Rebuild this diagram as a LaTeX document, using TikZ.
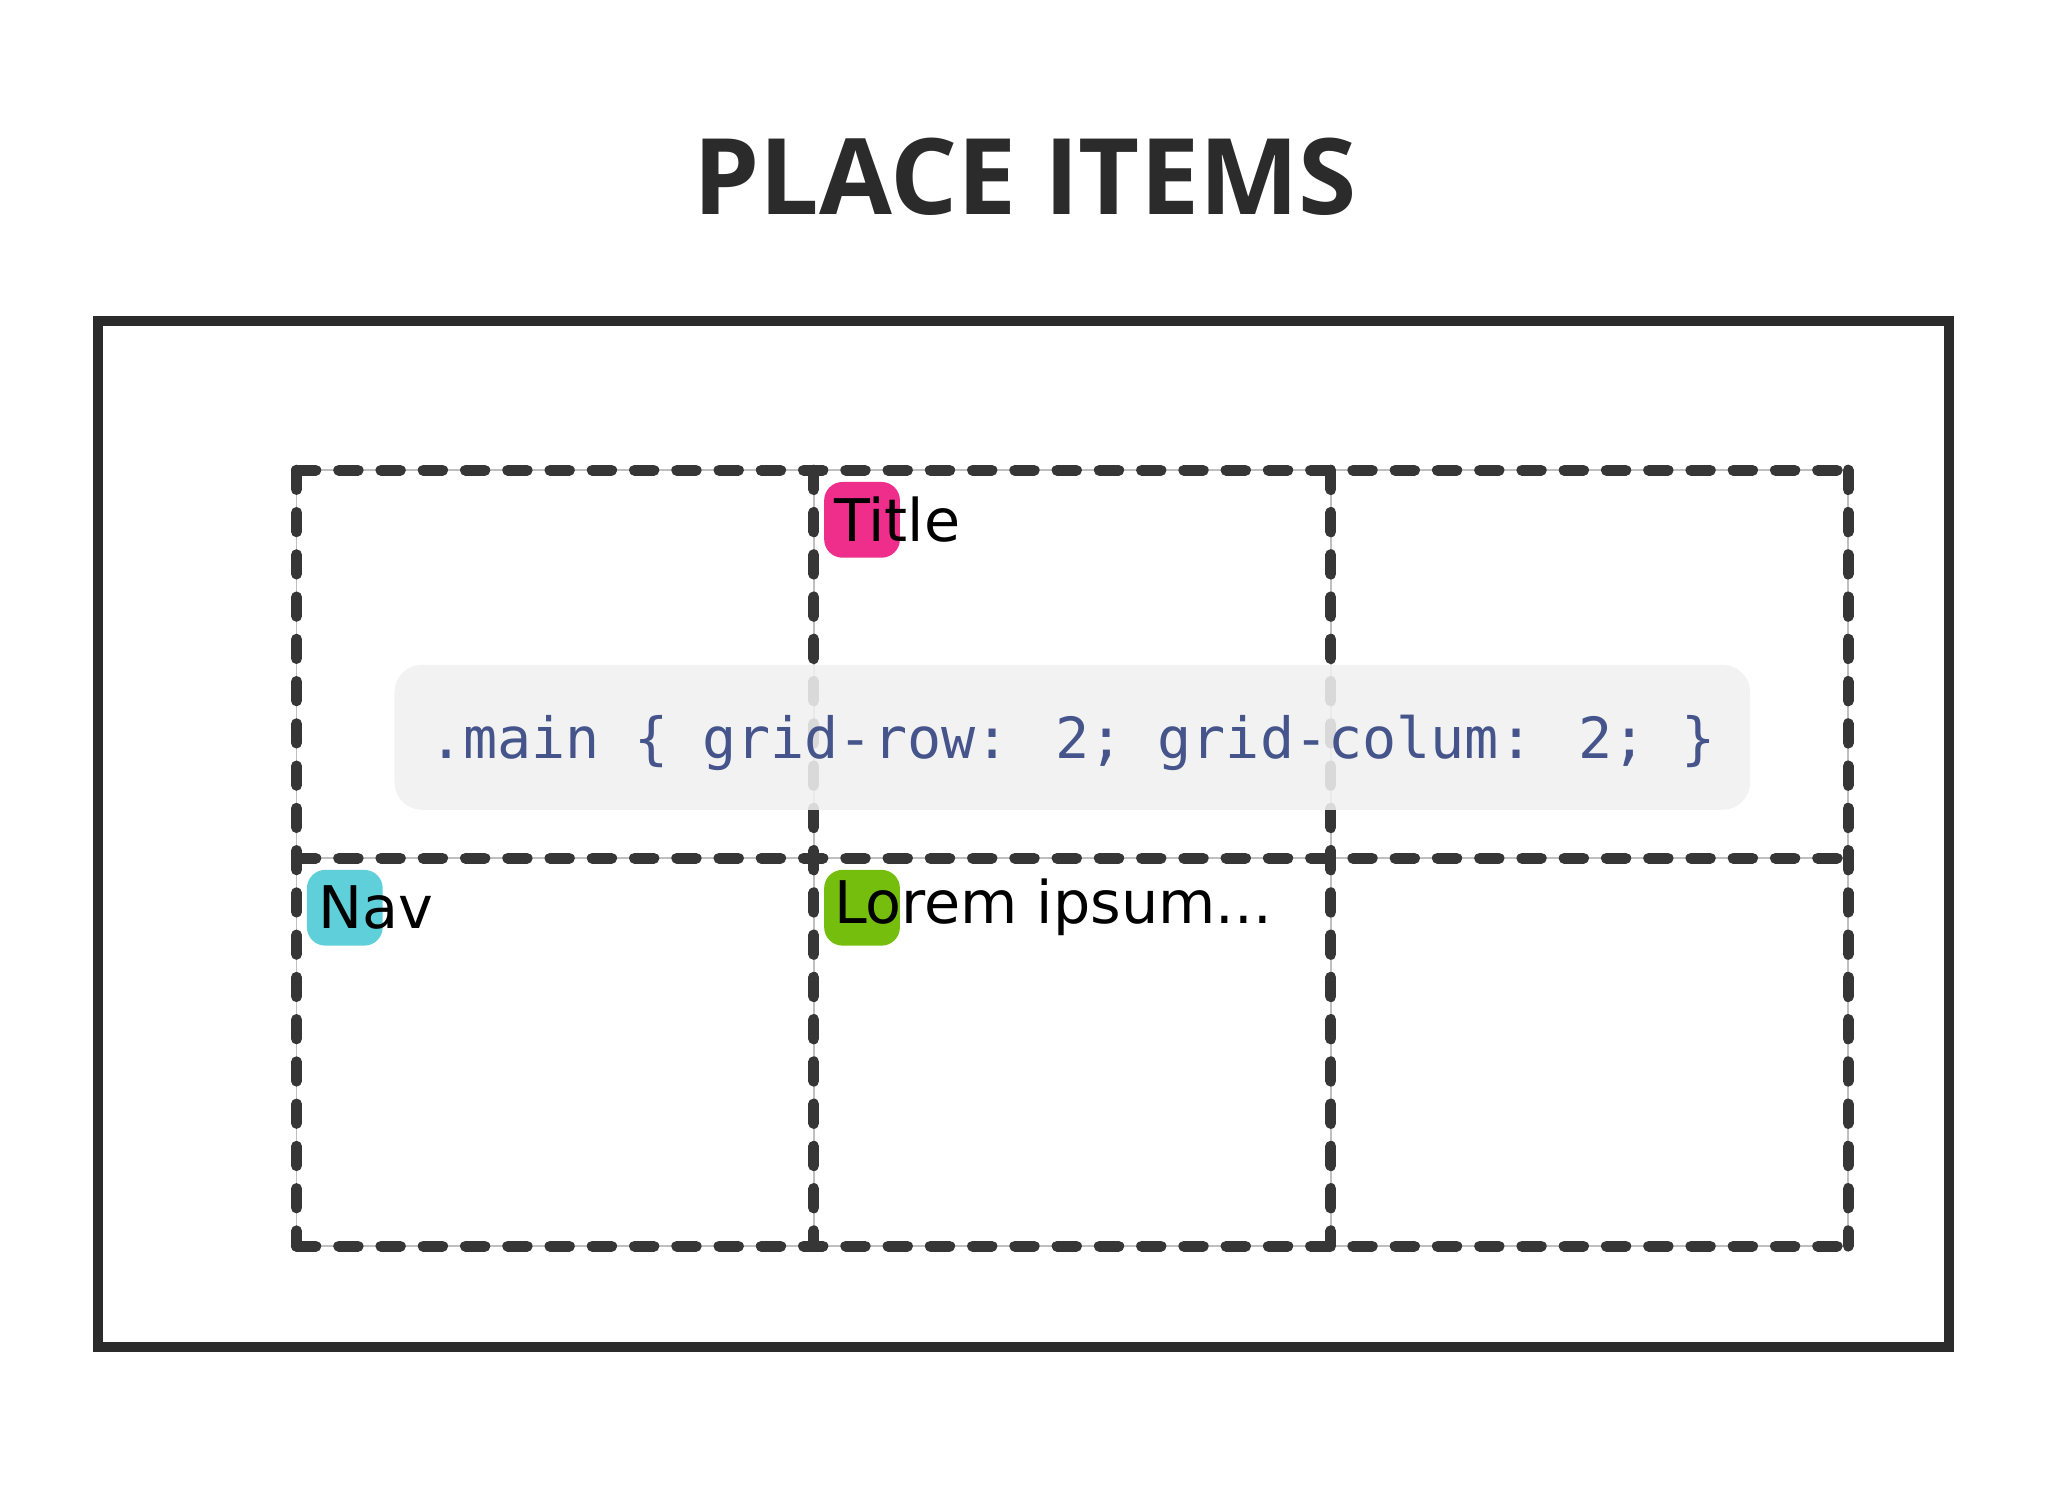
\documentclass[tikz,border=0pt]{standalone}
\usepackage{fontspec}
\setmainfont{DejaVu Sans}
\newfontfamily\titlefont{Open Sans}
\newfontfamily\codefont{DejaVu Sans Mono}
\definecolor{dk}{HTML}{2B2B2B}
\definecolor{pinkc}{HTML}{EE2E8A}
\definecolor{cyanc}{HTML}{5FCFD9}
\definecolor{greenc}{HTML}{76BE0E}
\definecolor{codec}{HTML}{45548A}
\tikzset{
 gridline/.style={draw=dk!95, line width=2.4pt, line cap=round, dash pattern=on 4.2pt off 5pt},
 faint/.style={draw=gray!50, line width=0.4pt},
 tag/.style={rounded corners=4pt},
 lbl/.style={anchor=west, inner sep=0, font=\fontsize{12.8}{12.8}\selectfont}
}
\begin{document}
\begin{tikzpicture}[x=0.01cm,y=-0.01cm]
\useasboundingbox (0,0) rectangle (1568,1142);
\node[text=dk] (title) at (785,135) {\titlefont\bfseries\fontsize{23}{23}\selectfont PLACE ITEMS};
\draw[dk, line width=2.2pt] (75,246) rectangle (1492,1031);
\foreach \x in {227,623,1019,1415} \draw[faint] (\x,360) -- (\x,954);
\foreach \y in {360,657,954} \draw[faint] (227,\y) -- (1415,\y);
\foreach \x in {227,623,1019,1415} \draw[gridline] (\x,360) -- (\x,954);
\foreach \y in {360,657,954} \draw[gridline] (227,\y) -- (1415,\y);
\fill[rounded corners=6pt, fill=gray!12, fill opacity=0.88] (302,509) rectangle (1340,620);
\node[text=codec] (code) at (821,569) {\codefont\fontsize{12.35}{12.35}\selectfont .main \{ grid-row: 2; grid-colum: 2; \}};
\fill[tag, pinkc] (631,369) rectangle (689,427);
\node[lbl] (t) at (638,398) {Title};
\fill[tag, cyanc] (235,666) rectangle (293,724);
\node[lbl] (n) at (243,695) {Nav};
\fill[tag, greenc] (631,666) rectangle (689,724);
\node[lbl] (l) at (638,695) {Lorem ipsum...};
\end{tikzpicture}
\end{document}
